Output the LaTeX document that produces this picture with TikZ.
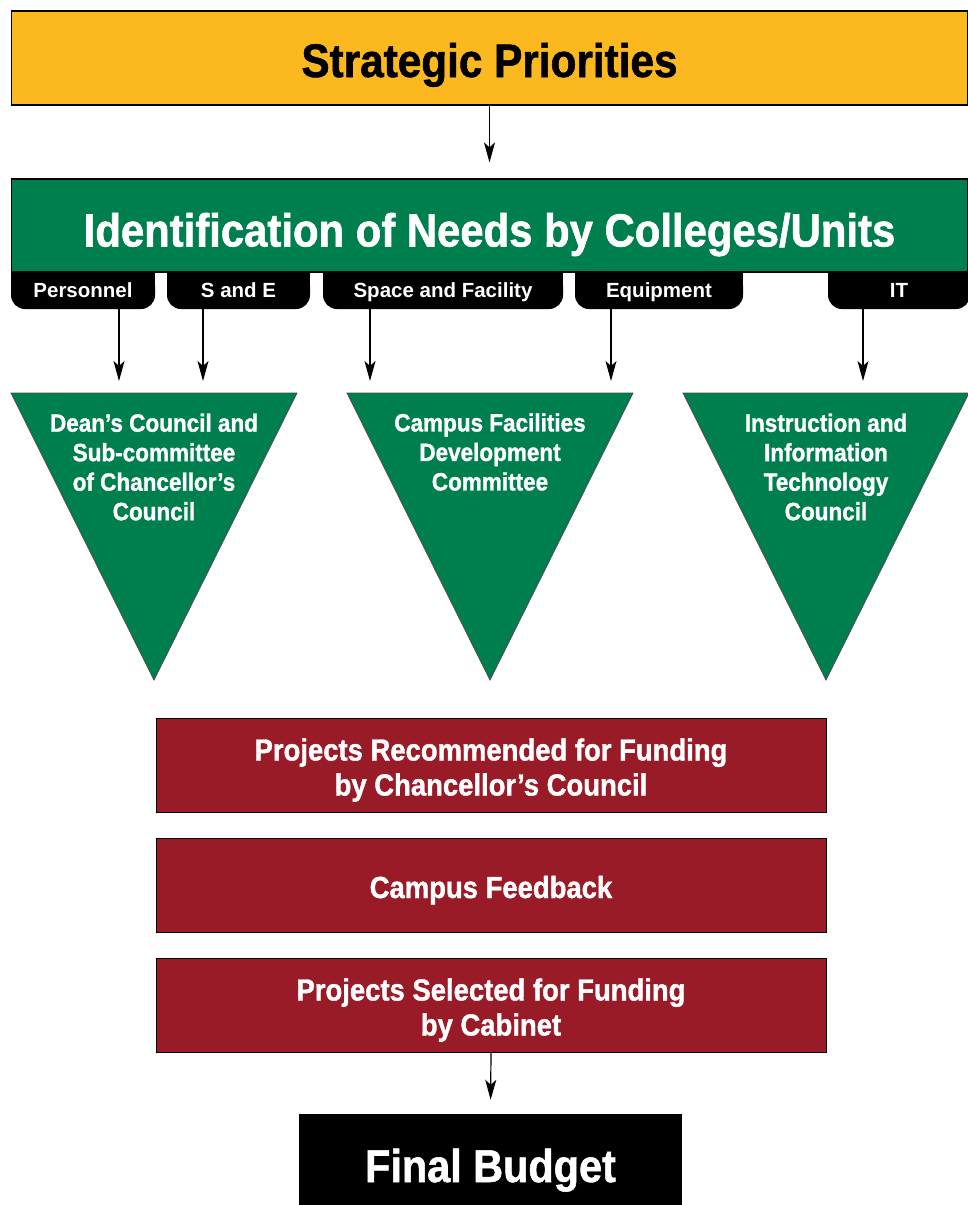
\documentclass[tikz,border=0pt]{standalone}
\usepackage{fontspec}
\setmainfont{Liberation Sans}
\newfontfamily\headfont{Liberation Sans}[FakeStretch=0.9,FakeBold=1.2]
\usetikzlibrary{arrows.meta,backgrounds}

\definecolor{gold}{HTML}{FBB81F}
\definecolor{leaf}{HTML}{007F4E}
\definecolor{wine}{HTML}{9A1B28}

% lower a (possibly multi-line) label inside its box without changing the box
\newcommand\sinklabel[2]{\raisebox{-#1}[\height][\depth]{\begin{tabular}{@{}c@{}}#2\end{tabular}}}

\tikzset{
  x=1pt, y=-1pt,
  band/.style={draw=black, line width=1.2pt, inner sep=0pt, anchor=center,
    font=\headfont\bfseries\fontsize{47}{50}\selectfont},
  tab/.style={fill=black, rounded corners=14pt, minimum height=37pt, inner sep=0pt,
    text height=14.5pt, text depth=0pt,
    text=white, font=\bfseries\fontsize{20.5}{24}\selectfont},
  tri/.style={fill=leaf, draw=black!70, line width=0.8pt, line join=miter},
  tritext/.style={text=white, align=center, inner sep=0pt,
    font=\headfont\bfseries\fontsize{25}{29.5}\selectfont},
  redbox/.style={fill=wine, draw=black, line width=1pt, minimum width=670pt,
    minimum height=94pt, inner sep=0pt, text=white,
    font=\headfont\bfseries\fontsize{30.5}{35}\selectfont},
  arr/.style={line width=1.2pt, -{Stealth[length=20pt,width=11pt,inset=5pt]}}
}

\begin{document}
\begin{tikzpicture}
\useasboundingbox (0,0) rectangle (968,1205);

% header band
\node[band, fill=gold, text=black, minimum width=956pt, minimum height=94pt]
  (sp) at (489.5,58) {\sinklabel{9pt}{Strategic Priorities}};

% category tabs hanging under the green band
\node[tab, minimum width=144pt] (pers)  at (83,290.5)  {Personnel};
\node[tab, minimum width=143pt] (sande) at (238.5,290.5) {S and E};
\node[tab, minimum width=240pt] (space) at (443,290.5) {Space and Facility};
\node[tab, minimum width=168pt] (equip) at (659,290.5) {Equipment};
\node[tab, minimum width=142pt] (it)    at (899,290.5) {IT};
\begin{pgfonlayer}{background}
  \foreach \t in {pers,sande,space,equip,it}
    \fill (\t.north west) rectangle (\t.east);
\end{pgfonlayer}

% needs band
\node[band, fill=leaf, text=white, minimum width=956pt, minimum height=93pt,
  font=\headfont\bfseries\fontsize{46.5}{50}\selectfont]
  (needs) at (489.5,225.5) {\sinklabel{11pt}{Identification of Needs by Colleges/Units}};

\draw[arr, shorten >=16pt] (sp.south) -- (needs.north);

% review committees
\coordinate (t1) at (154,393);
\coordinate (t2) at (490,393);
\coordinate (t3) at (826,393);
\draw[tri] (11,393) -- (297,393) -- (154,680) -- cycle;
\draw[tri] (347,393) -- (633,393) -- (490,680) -- cycle;
\draw[tri] (683,393) -- (969,393) -- (826,680) -- cycle;

\node[tritext] (dean) at (154,467)
  {Dean’s Council and\\Sub-committee\\of Chancellor’s\\Council};
\node[tritext] (cfdc) at (490,452)
  {Campus Facilities\\Development\\Committee};
\node[tritext] (iitc) at (826,467)
  {Instruction and\\Information\\Technology\\Council};

\draw[arr, shorten >=12pt] ([xshift=36pt]pers.south)    -- ([xshift=36pt]pers.south |- t1);
\draw[arr, shorten >=12pt] ([xshift=-35.5pt]sande.south) -- ([xshift=-35.5pt]sande.south |- t1);
\draw[arr, shorten >=12pt] ([xshift=-73pt]space.south)  -- ([xshift=-73pt]space.south |- t2);
\draw[arr, shorten >=12pt] ([xshift=-48pt]equip.south)  -- ([xshift=-48pt]equip.south |- t2);
\draw[arr, shorten >=12pt] ([xshift=-36pt]it.south)     -- ([xshift=-36pt]it.south |- t3);

% funding steps
\node[redbox] (rec) at (491,765)
  {\sinklabel{6pt}{Projects Recommended for Funding\\by Chancellor’s Council}};
\node[redbox] (fb)  at (491,885) {\sinklabel{6pt}{Campus Feedback}};
\node[redbox] (sel) at (491,1005)
  {\sinklabel{6pt}{Projects Selected for Funding\\by Cabinet}};

\node[fill=black, text=white, minimum width=383pt, minimum height=92pt, inner sep=0pt,
  font=\headfont\bfseries\fontsize{46}{50}\selectfont]
  (final) at (490.5,1160) {\sinklabel{12pt}{Final Budget}};

\draw[arr, shorten >=14pt] (sel.south) -- (final.north);
\end{tikzpicture}
\end{document}
